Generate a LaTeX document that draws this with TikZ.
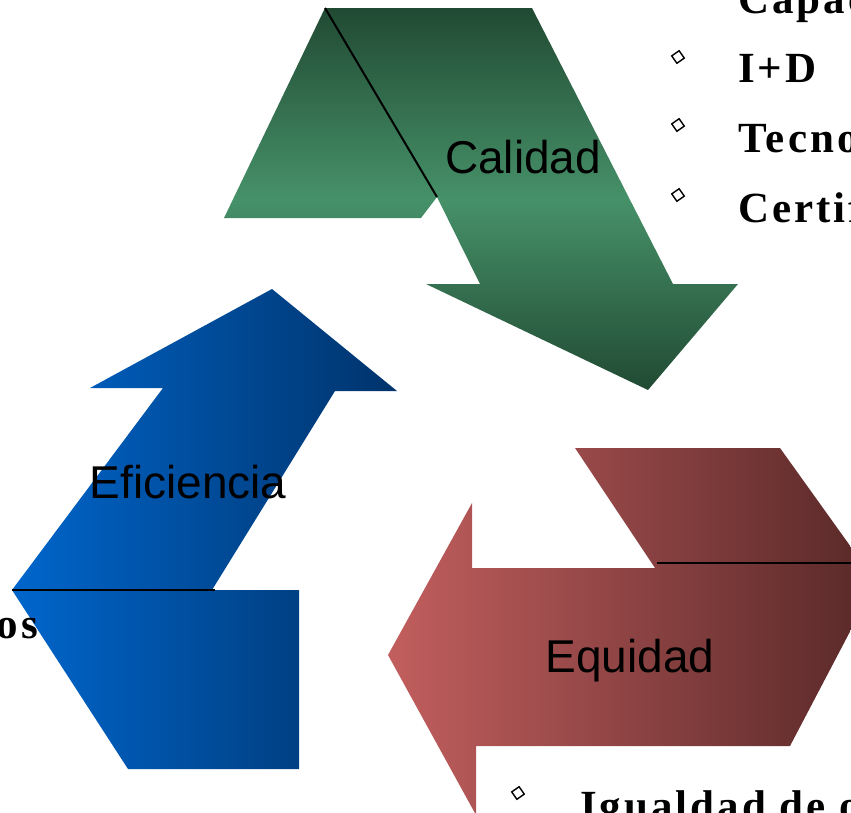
\documentclass[tikz,border=0pt]{standalone}
\usepackage{fontspec}
\setmainfont{Liberation Sans}
\newfontfamily\listfont[LetterSpace=7]{Liberation Serif}
\definecolor{gdark}{RGB}{33,74,51}
\definecolor{glight}{RGB}{70,145,105}
\definecolor{bleft}{RGB}{0,102,204}
\definecolor{bright}{RGB}{0,51,107}
\definecolor{rleft}{RGB}{194,94,94}
\definecolor{rright}{RGB}{88,40,40}
\tikzset{
  fold/.style={black, line width=2pt},
  label/.style={anchor=base, inner sep=0pt, font=\fontsize{46}{54}\selectfont},
  item/.style={anchor=base west, inner sep=0pt, font=\listfont\bfseries\fontsize{43}{50}\selectfont},
  bullet/.style={draw=black, line width=1.4pt, fill=white, minimum size=9pt, inner sep=0pt, rotate=35},
}
\begin{document}
\begin{tikzpicture}[x=1pt, y=-1pt]
\useasboundingbox (0,0) rectangle (851,812);
\clip (0,0) rectangle (851,812);
% green arrow (Calidad)
\shade[top color=gdark, bottom color=gdark, middle color=glight]
  (325,8) -- (532,8) -- (673,284) -- (738,284) -- (648,390) -- (426,284)
  -- (480,284) -- (437,197) -- (421,218) -- (224,218) -- cycle;
\coordinate (g1) at (325,8);
\coordinate (g2) at (437,197);
\draw[fold] (g1) -- (g2);
% blue arrow (Eficiencia)
\shade[left color=bleft, right color=bright]
  (272,289) -- (397,391) -- (335,391) -- (212,590) -- (299,590) -- (299,769)
  -- (128,769) -- (12,590) -- (163,388) -- (90,388) -- cycle;
\coordinate (b1) at (12,590);
\coordinate (b2) at (215,590);
\draw[fold] (b1) -- (b2);
% red arrow (Equidad)
\shade[left color=rleft, right color=rright]
  (575,448) -- (780,448) -- (876,582) -- (790,746) -- (476,746) -- (476,815)
  -- (388,655) -- (472,503) -- (472,568) -- (655,568) -- cycle;
\coordinate (r1) at (657,563);
\coordinate (r2) at (880,563);
\draw[fold] (r1) -- (r2);
% labels
\node[label] (cal) at (523,173) {Calidad};
\node[label] (efi) at (188,498) {Eficiencia};
\node[label] (equ) at (630,672) {Equidad};
% bullet list (top right)
\node[item] (t0) at (738,13) {Capacitación};
\node[bullet] (d1) at (678,57) {};
\node[item] (t1) at (738,82) {I+D};
\node[bullet] (d2) at (678,125) {};
\node[item] (t2) at (738,152) {Tecnología};
\node[bullet] (d3) at (678,195) {};
\node[item] (t3) at (738,222) {Certificación};
% bottom list
\node[bullet] (d4) at (518,793) {};
\node[item] (t4) at (580,820) {Igualdad de oportunidades};
% left list
\node[item, anchor=base east] (t5) at (38,638) {Costos};
\end{tikzpicture}
\end{document}
